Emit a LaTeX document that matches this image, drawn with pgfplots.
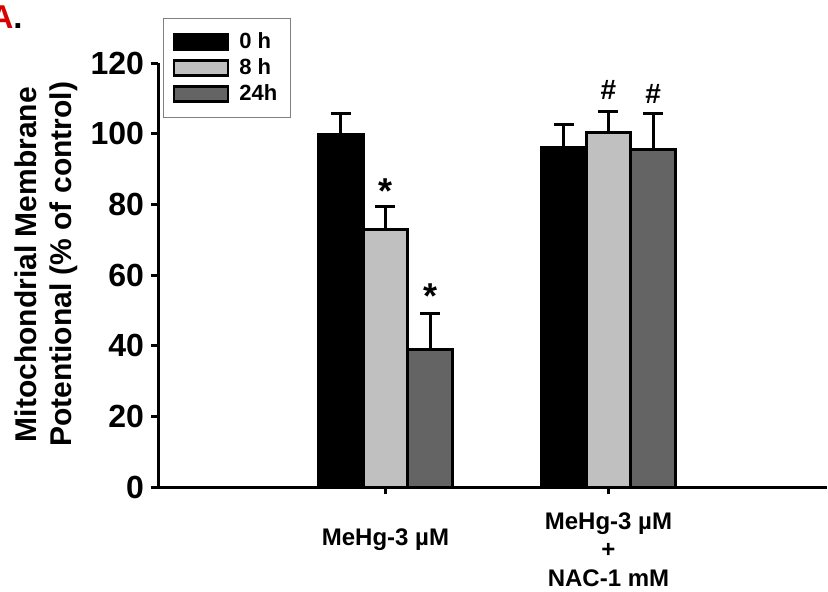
\documentclass[border=0pt]{standalone}
\usepackage{pgfplots}
\pgfplotsset{compat=1.18}
\usepackage{fontspec}
\setmainfont{Liberation Sans}
\definecolor{lgray}{RGB}{192,192,192}
\definecolor{dgray}{RGB}{100,100,100}
\begin{document}
\begin{tikzpicture}
\begin{axis}[
  at={(79pt,52pt)}, anchor=south west,
  scale only axis, width=334.5pt, height=212pt,
  xmin=-0.02, xmax=2.98, ymin=0, ymax=120,
  axis x line=bottom, axis y line=left,
  axis line style={-, line width=1.5pt},
  clip=false,
  ytick={0,20,...,120},
  xtick={1}, xticklabels={MeHg-3 µM},
  extra x ticks={2},
  extra x tick labels={MeHg-3 µM\\+\\NAC-1 mM},
  extra x tick style={tick label style={yshift=8pt}},
  tick align=outside,
  major tick length=3.5pt,
  tick style={line width=1.5pt, black},
  /pgf/number format/assume math mode=true,
  yticklabel style={font=\fontsize{16}{18}\selectfont\bfseries},
  xticklabel style={font=\fontsize{12}{14.25}\selectfont\bfseries, align=center, anchor=north, inner sep=0pt, yshift=-17pt},
  ybar, bar width=0.2,
  error bars/y dir=plus, error bars/y explicit,
  error bars/error bar style={line width=1.5pt, black},
  error bars/error mark options={rotate=90, line width=1.5pt, mark size=5pt, black},
  legend style={at={(axis description cs:0.0075,1.106)}, anchor=north west,
    draw=gray, line width=0.6pt, font=\fontsize{11}{12}\selectfont\bfseries,
    inner xsep=4.5pt, inner ysep=5pt, row sep=-0.5pt, column sep=3pt},
  legend cell align=left,
  area legend,
  legend image post style={xscale=1.59, yscale=1.32, line width=1.2pt},
]
\addplot[fill=black, draw=black, line width=1.5pt, bar shift=0pt]
  coordinates {(0.8,99.7) +- (0,5.9) (1.8,96.0) +- (0,6.5)};
\addplot[fill=lgray, draw=black, line width=1.5pt, bar shift=0pt]
  coordinates {(1.0,72.9) +- (0,6.6) (2.0,100.4) +- (0,5.9)};
\addplot[fill=dgray, draw=black, line width=1.5pt, bar shift=0pt]
  coordinates {(1.2,38.9) +- (0,10.2) (2.2,95.4) +- (0,10.2)};
\legend{0 h, 8 h, 24h}
\coordinate (s1) at (axis cs:1.0,85.3);
\coordinate (s2) at (axis cs:1.2,55.6);
\coordinate (h1) at (axis cs:2.0,112.4);
\coordinate (h2) at (axis cs:2.2,111.3);
\end{axis}
\node[font=\fontsize{18}{18}\selectfont\bfseries, inner sep=0pt, yshift=-3pt] at (s1) {*};
\node[font=\fontsize{18}{18}\selectfont\bfseries, inner sep=0pt, yshift=-3pt] at (s2) {*};
\node[font=\fontsize{14}{14}\selectfont\bfseries, inner sep=0pt] at (h1) {\#};
\node[font=\fontsize{14}{14}\selectfont\bfseries, inner sep=0pt] at (h2) {\#};
\node[rotate=90, align=center, inner sep=0pt, font=\fontsize{15}{17.5}\selectfont\bfseries]
  at (23.25pt,163.25pt) {Mitochondrial Membrane\\Potentional (\% of control)};
\node[anchor=base east, inner sep=0pt, font=\fontsize{16.5}{16.5}\selectfont\bfseries]
  at (11.5pt,281.5pt) {\textcolor{red!85!black}{A}.};
\pgfresetboundingbox
\path[use as bounding box] (0,0) rectangle (414pt,295.5pt);
\end{tikzpicture}
\end{document}
